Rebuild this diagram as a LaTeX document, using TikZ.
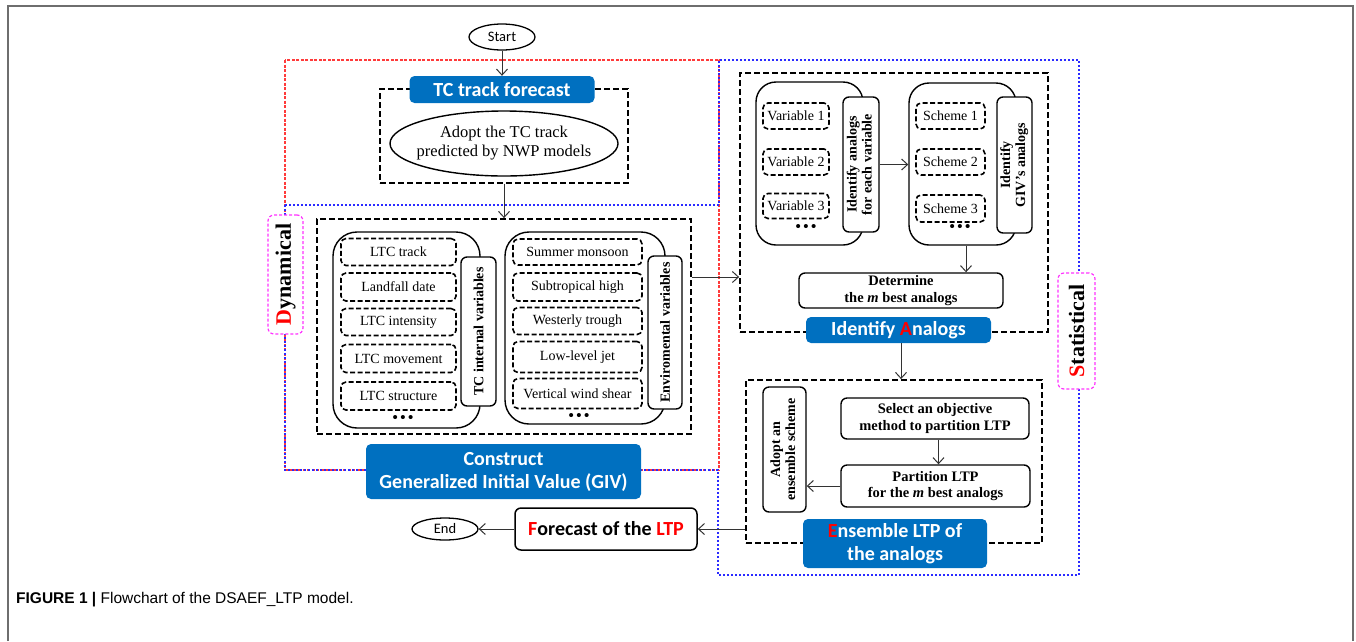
\documentclass[tikz,border=0pt]{standalone}
\usepackage{fontspec}
\setmainfont{Liberation Serif}
\newfontfamily\calfont{Carlito}
\newfontfamily\capfont{Liberation Sans}
\usepackage{tikz}
\usetikzlibrary{arrows.meta,shapes.geometric}
\definecolor{ChartFrame}{HTML}{6E6E6E}
\definecolor{ChartLine}{HTML}{333333}
\definecolor{ChartBlue}{HTML}{0070C0}
\definecolor{ChartRed}{HTML}{FF0000}
\definecolor{ChartDyn}{HTML}{FF3B3B}
\definecolor{ChartStat}{HTML}{2B2BFF}
\definecolor{ChartTag}{HTML}{FF33FF}

\begin{document}
\begin{tikzpicture}[x=1pt,y=-1pt,
    >={Straight Barb[length=6pt,width=11pt]},
    groupbox/.style={draw,line width=1.8pt,dash pattern=on 6pt off 3pt,inner sep=0pt},
    itembox/.style={draw,line width=1.6pt,dash pattern=on 5pt off 2.5pt,rounded corners=5pt,inner sep=0pt,font=\fontsize{14}{16}\selectfont},
    roundgroup/.style={draw,line width=1.4pt,rounded corners=24pt,inner sep=0pt},
    sidebox/.style={draw,fill=white,line width=1.4pt,rounded corners=6pt,inner sep=0pt,font=\bfseries\fontsize{14}{15}\selectfont},
    plainbox/.style={draw,line width=1.4pt,rounded corners=6pt,inner sep=0pt,align=center,font=\bfseries\fontsize{14.5}{16.5}\selectfont},
    titlebox/.style={fill=ChartBlue,rounded corners=5pt,inner sep=0pt,align=center,text=white,font=\calfont\bfseries\fontsize{20}{23}\selectfont},
    tagbox/.style={draw=ChartTag,fill=white,line width=1.2pt,dash pattern=on 3pt off 2pt,rounded corners=6pt,inner sep=0pt,font=\bfseries\fontsize{22}{24}\selectfont},
    termnode/.style={draw,ellipse,line width=1.3pt,inner sep=0pt,font=\calfont\fontsize{14.5}{16}\selectfont},
    moredots/.style={inner sep=0pt,font=\bfseries\fontsize{15}{15}\selectfont},
    flow/.style={->,ChartLine,line width=1pt}]
  \useasboundingbox (0,0) rectangle (1356,641);
  \draw[ChartFrame,line width=1.5pt] (8,641) -- (8,6) -- (1353,6) -- (1353,641);
  \draw[ChartDyn,line width=1.1pt,dash pattern=on 3pt off 1.5pt] (285,60) rectangle (719,470);
  \draw[ChartStat,line width=1.1pt,dash pattern=on 2pt off 2pt] (285,205) -- (719,205) -- (719,60) -- (1079,60) -- (1079,575) -- (718,575) -- (718,470) -- (285,470) -- cycle;

  \node[termnode,minimum width=66pt,minimum height=26pt] (start) at (502,37) {Start};
  \node[groupbox,minimum width=248pt,minimum height=94pt] (trkbox) at (504,136) {};
  \node[titlebox,minimum width=185pt,minimum height=27pt] (trktitle) at (502,89.5) {TC track forecast};
  \node[draw,ellipse,line width=1.4pt,inner xsep=-8pt,inner ysep=0pt,minimum width=228pt,minimum height=65pt,align=center,font=\fontsize{16.5}{19}\selectfont] (adopt) at (504,143.5) {Adopt the TC track\\predicted by NWP models};

  \node[groupbox,minimum width=374pt,minimum height=215pt] (givbox) at (504,326.5) {};
  \node[roundgroup,minimum width=147pt,minimum height=196pt] (tcgroup) at (406.5,330) {};
  \node[sidebox,minimum width=35pt,minimum height=149pt] (tcside) at (478.5,331.5) {\rotatebox{90}{TC internal variables}};
  \node[itembox,minimum width=115pt,minimum height=27pt] (ltrack) at (398.5,252) {LTC track};
  \node[itembox,minimum width=115pt,minimum height=28pt] (ldate) at (398.5,287) {Landfall date};
  \node[itembox,minimum width=115pt,minimum height=27pt] (lint) at (398.5,322) {LTC intensity};
  \node[itembox,minimum width=115pt,minimum height=28pt] (lmove) at (398.5,358.5) {LTC movement};
  \node[itembox,minimum width=115pt,minimum height=28pt] (lstruct) at (398.5,396) {LTC structure};
  \node[moredots] (tcdots) at (403,419) {\textbullet\,\textbullet\,\textbullet};
  \node[roundgroup,minimum width=160pt,minimum height=192pt] (envgroup) at (585,328) {};
  \node[sidebox,minimum width=34pt,minimum height=153pt] (envside) at (665,332.5) {\rotatebox{90}{Enviromental variables}};
  \node[itembox,minimum width=129pt,minimum height=26pt] (monsoon) at (577.5,252) {Summer monsoon};
  \node[itembox,minimum width=129pt,minimum height=28pt] (subhigh) at (577.5,287) {Subtropical high};
  \node[itembox,minimum width=129pt,minimum height=27pt] (trough) at (577.5,321) {Westerly trough};
  \node[itembox,minimum width=129pt,minimum height=31pt] (jet) at (577.5,357) {Low-level jet};
  \node[itembox,minimum width=129pt,minimum height=30pt] (shear) at (577.5,393.5) {Vertical wind shear};
  \node[moredots] (envdots) at (579,417) {\textbullet\,\textbullet\,\textbullet};
  \node[titlebox,minimum width=275pt,minimum height=55pt] (givtitle) at (503.5,471.5) {Construct\\Generalized Initial Value (GIV)};

  \node[groupbox,minimum width=308pt,minimum height=259pt] (idbox) at (894,202.5) {};
  \node[roundgroup,rounded corners=20pt,minimum width=107pt,minimum height=163pt] (vargroup) at (809.5,163.5) {};
  \node[sidebox,minimum width=36pt,minimum height=135pt] (varside) at (861,164.5) {\rotatebox{90}{\begin{tabular}{@{}c@{}}Identify analogs\\for each variable\end{tabular}}};
  \node[itembox,minimum width=66pt,minimum height=26pt] (var1) at (796,116) {Variable 1};
  \node[itembox,minimum width=66pt,minimum height=26pt] (var2) at (796,162) {Variable 2};
  \node[itembox,minimum width=66pt,minimum height=25pt] (var3) at (796,206) {Variable 3};
  \node[moredots] (vardots) at (806,228) {\textbullet\,\textbullet\,\textbullet};
  \node[roundgroup,rounded corners=20pt,minimum width=107pt,minimum height=162pt] (schgroup) at (962.5,164) {};
  \node[sidebox,minimum width=35pt,minimum height=136pt] (schside) at (1014.5,165) {\rotatebox{90}{\begin{tabular}{@{}c@{}}Identify\\GIV’s analogs\end{tabular}}};
  \node[itembox,minimum width=69pt,minimum height=26pt] (sch1) at (950.5,116) {Scheme 1};
  \node[itembox,minimum width=69pt,minimum height=26pt] (sch2) at (950.5,162) {Scheme 2};
  \node[itembox,minimum width=69pt,minimum height=27pt] (sch3) at (950.5,208.5) {Scheme 3};
  \node[moredots] (schdots) at (960,228) {\textbullet\,\textbullet\,\textbullet};
  \node[plainbox,minimum width=204pt,minimum height=35pt] (determine) at (901,290.5) {Determine\\the \textit{m} best analogs};
  \node[titlebox,minimum width=185pt,minimum height=26pt] (idtitle) at (898.5,330) {Identify \textcolor{ChartRed}{A}nalogs};

  \node[groupbox,minimum width=296pt,minimum height=163pt] (ensbox) at (894,461.5) {};
  \node[sidebox,minimum width=43pt,minimum height=125pt] (ensside) at (784.5,449.5) {\rotatebox{90}{\begin{tabular}{@{}c@{}}Adopt an\\ensemble scheme\end{tabular}}};
  \node[plainbox,minimum width=188pt,minimum height=41pt] (select) at (935,418.5) {Select an objective\\method to partition LTP};
  \node[plainbox,minimum width=189pt,minimum height=42pt] (partition) at (935.5,486) {Partition LTP\\for the \textit{m} best analogs};
  \node[titlebox,minimum width=184pt,minimum height=49pt] (enstitle) at (895,543.5) {\textcolor{ChartRed}{E}nsemble LTP of\\the analogs};

  \node[draw,line width=1.5pt,rounded corners=6pt,inner sep=0pt,minimum width=182pt,minimum height=42pt,font=\calfont\bfseries\fontsize{20}{23}\selectfont] (forecast) at (606,529) {\textcolor{ChartRed}{F}orecast of the \textcolor{ChartRed}{LTP}};
  \node[termnode,minimum width=66pt,minimum height=22pt] (endnode) at (445,529) {End};

  \node[tagbox,minimum width=35pt,minimum height=119pt] (dyntag) at (285.5,274.5) {\rotatebox{90}{\textcolor{ChartRed}{D}ynamical}};
  \node[tagbox,minimum width=37pt,minimum height=116pt] (stattag) at (1076.5,331) {\rotatebox{90}{\textcolor{ChartRed}{S}tatistical}};

  \draw[flow] (start) -- (trktitle);
  \draw[flow] (trkbox.south) -- (givbox.north);
  \draw[flow] ([yshift=49.5pt]givbox.east) -- ([yshift=49.5pt]givbox.east -| idbox.west);
  \draw[flow] (varside.east) -- (varside.east -| schgroup.west);
  \draw[flow] ([xshift=3.5pt]schgroup.south) -- ([xshift=3.5pt]schgroup.south |- determine.north);
  \draw[flow] ([xshift=2.5pt]idtitle.south) -- ([xshift=2.5pt]idtitle.south |- ensbox.north);
  \draw[flow] ([xshift=3.5pt]select.south) -- ([xshift=3.5pt]select.south |- partition.north);
  \draw[flow] (partition.west) -- (partition.west -| ensside.east);
  \draw[flow] (forecast.east -| ensbox.west) -- (forecast.east);
  \draw[flow] (forecast.west) -- (endnode.east);

  \node[anchor=west,inner sep=0pt,font=\capfont\fontsize{15.5}{18}\selectfont] (caption) at (16,600) {\textbf{FIGURE 1 |} Flowchart of the DSAEF\_LTP model.};
\end{tikzpicture}
\end{document}
